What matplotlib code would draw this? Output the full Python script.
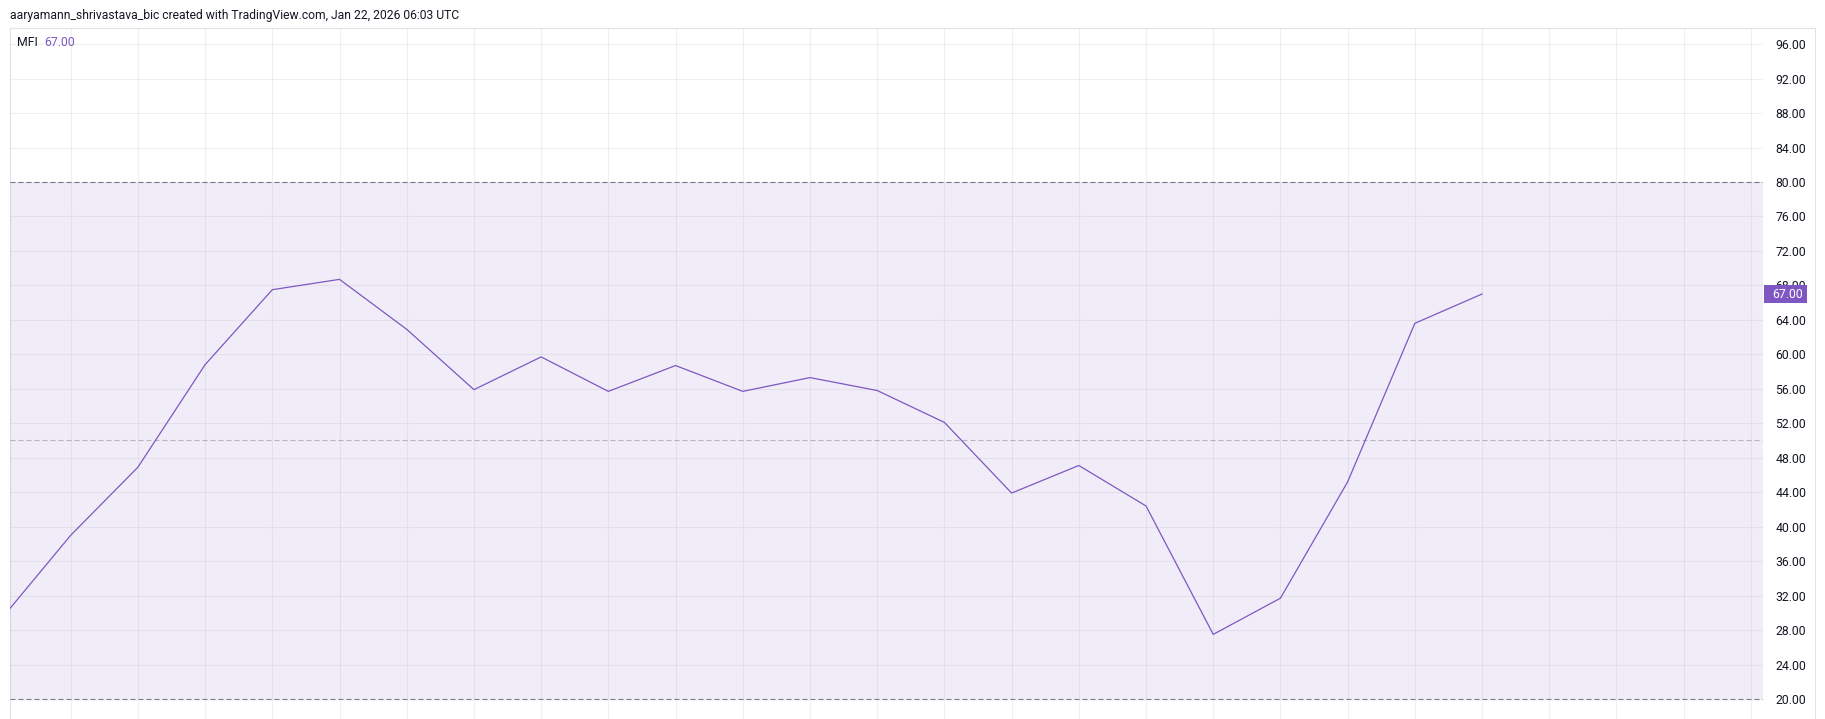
import matplotlib.pyplot as plt
import matplotlib.transforms as mtransforms
from matplotlib.patches import Rectangle
import numpy as np

# MFI readings, one per bar (first bar sits just off the left edge)
bars = np.arange(23)
mfi = [29.6, 39.0, 46.9, 58.8, 67.5, 68.7, 62.9, 55.9, 59.7, 55.7, 58.7, 55.7,
       57.3, 55.8, 52.1, 43.9, 47.1, 42.4, 27.5, 31.7, 45.2, 63.6, 67.0]
y_ticks = list(range(20, 100, 4))
upper_band, middle_band, lower_band = 80, 50, 20
header = "aaryamann_shrivastava_bic created with TradingView.com, Jan 22, 2026 06:03 UTC"
indicator_name = "MFI"

W, H = 1825, 719
purple = "#7E57C2"
text_col = "#131722"
border_col = "#E0E3EB"
grid_col = (42 / 255, 46 / 255, 57 / 255, 0.07)
plt.rcParams["font.family"] = ["Roboto", "DejaVu Sans"]

fig = plt.figure(figsize=(W / 100, H / 100), dpi=100)
fig.patch.set_facecolor("white")

# outer frame around plot + price scale
frame = fig.add_axes([10 / W, 0, (1815 - 10) / W, 691 / H])
frame.set_xticks([])
frame.set_yticks([])
frame.patch.set_alpha(0)
for side in ("left", "top", "right"):
    frame.spines[side].set_color(border_col)
    frame.spines[side].set_linewidth(0.8)
frame.spines["bottom"].set_visible(False)

ax = fig.add_axes([10 / W, 0, (1763 - 10) / W, 691 / H])
ax.patch.set_alpha(0)
for s in ax.spines.values():
    s.set_visible(False)

ax.set_xlim(0.097, 26.18)
ax.set_ylim(17.68, 97.87)

# grid
for gx in range(0, 27):
    ax.axvline(gx, color=grid_col, lw=0.8, zorder=0)
for gy in y_ticks:
    ax.axhline(gy, color=grid_col, lw=0.8, zorder=0)

# band
ax.axhspan(lower_band, upper_band, color=(126 / 255, 87 / 255, 194 / 255, 0.1), lw=0, zorder=0)
dash = (0, (4.5, 2.7))
ax.axhline(upper_band, color="#787B86", lw=0.8, ls=dash, zorder=1)
ax.axhline(lower_band, color="#787B86", lw=0.8, ls=dash, zorder=1)
ax.axhline(middle_band, color=(120 / 255, 123 / 255, 134 / 255, 0.5), lw=0.8, ls=dash, zorder=1)

ax.plot(bars, mfi, color=purple, lw=0.9, zorder=3)

ax.set_xticks([])
ax.yaxis.tick_right()
ax.set_yticks(y_ticks)
ax.set_yticklabels([f"{v:.2f}" for v in y_ticks])
ax.tick_params(axis="y", length=0, pad=9, labelsize=8.8, labelcolor=text_col)

# last value tag on the price scale
last = mfi[-1]
trans = mtransforms.blended_transform_factory(ax.transAxes, ax.transData)
ax.add_patch(Rectangle((1.0006, last - 1.0), 0.0245, 2.0, transform=trans,
                       facecolor=purple, edgecolor="none", clip_on=False, zorder=5))
ax.text(1.0 + 9 / 1753, last, f"{last:.2f}", transform=trans, color="white",
        fontsize=8.8, va="center", ha="left", zorder=6, clip_on=False)

# header + legend
fig.text(10 / W, 1 - 15 / H, header, fontsize=8.7, color=text_col, va="center", ha="left")
t = fig.text(17 / W, 1 - 42 / H, indicator_name + "  ", fontsize=8.8, color=text_col,
             va="center", ha="left")
fig.canvas.draw()
bb = t.get_window_extent()
fig.text(bb.x1 / W, 1 - 42 / H, f"{last:.2f}", fontsize=8.8, color=purple,
         va="center", ha="left")

fig.savefig("out.png", dpi=100)
